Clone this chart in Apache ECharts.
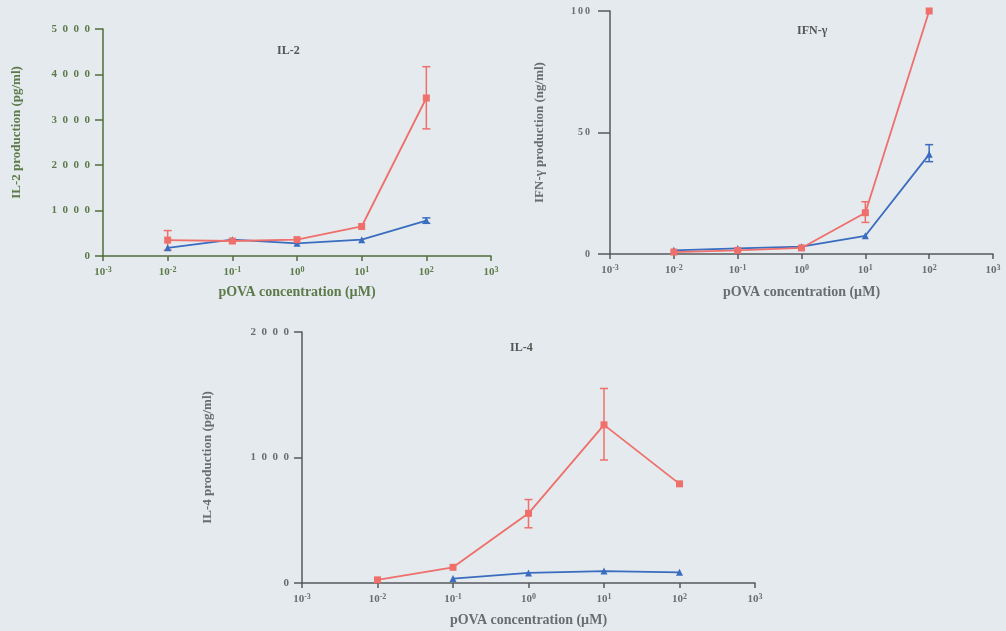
<!DOCTYPE html>
<html><head><meta charset="utf-8">
<script src="https://cdn.jsdelivr.net/npm/echarts@6/dist/echarts.min.js"></script>
<style>html,body{margin:0;padding:0;background:#e5eaee;}#c{width:1006px;height:631px;}</style>
</head><body><div id="c"></div>
<script>
// ---- data ----
const conc = [0.01, 0.1, 1, 10, 100];
// IL-2 (pg/ml)
const il2Red = [350, 330, 360, 650, 3480];
const il2RedLow = [130, null, null, null, 2800];
const il2RedHigh = [560, null, null, null, 4170];
const il2Blue = [180, 360, 280, 360, 780];
const il2BlueLow = [null, null, null, null, 720];
const il2BlueHigh = [null, null, null, null, 840];
// IFN-γ (ng/ml)
const ifnRed = [0.8, 1.5, 2.5, 17, 100];
const ifnRedLow = [null, null, null, 13, null];
const ifnRedHigh = [null, null, null, 21.5, null];
const ifnBlue = [1.5, 2.3, 3, 7.5, 41];
const ifnBlueLow = [null, null, null, null, 38];
const ifnBlueHigh = [null, null, null, null, 45];
// IL-4 (pg/ml)
const il4Red = [25, 125, 555, 1260, 790];
const il4RedLow = [null, null, 440, 980, null];
const il4RedHigh = [null, null, 665, 1550, null];
const il4Blue = [null, 35, 80, 95, 85];

const RED = '#ef6f6a', BLUE = '#3a6cc0';
const FONT = "'Liberation Serif','DejaVu Serif',serif";

function pairs(xs, ys){ return xs.map((x,i)=> ys[i]==null ? null : [x, ys[i]]).filter(d=>d); }
function errs(xs, lo, hi){ return xs.map((x,i)=> lo[i]==null ? null : [x, lo[i], hi[i]]).filter(d=>d); }

function errSeries(idx, data, color){
  return {
    type:'custom', xAxisIndex: idx, yAxisIndex: idx, data: data, z: 3, silent:true,
    renderItem: function(params, api){
      const x = api.value(0);
      const p1 = api.coord([x, api.value(1)]);
      const p2 = api.coord([x, api.value(2)]);
      const w = 4;
      const st = {stroke: color, lineWidth: 1.5};
      return {type:'group', children:[
        {type:'line', shape:{x1:p1[0], y1:p1[1], x2:p2[0], y2:p2[1]}, style: st},
        {type:'line', shape:{x1:p1[0]-w, y1:p1[1], x2:p1[0]+w, y2:p1[1]}, style: st},
        {type:'line', shape:{x1:p2[0]-w, y1:p2[1], x2:p2[0]+w, y2:p2[1]}, style: st}
      ]};
    }
  };
}
function lineSeries(idx, data, color, symbol){
  return {type:'line', xAxisIndex: idx, yAxisIndex: idx, data: data, symbol: symbol, symbolSize: 7,
    lineStyle:{color: color, width: 1.8}, itemStyle:{color: color}, z: 4, silent:true, animation:false};
}

function xAxis(idx, color, labelColor, gap){
  return {
    gridIndex: idx, type:'log', logBase:10, min:0.001, max:1000,
    name:'pOVA concentration (µM)', nameLocation:'middle', nameGap: gap,
    nameTextStyle:{fontFamily:FONT, fontWeight:'bold', fontSize:14, color: labelColor},
    axisLine:{lineStyle:{color: color, width:1.5}},
    axisTick:{show:true, length:5, lineStyle:{color: color, width:1.5}},
    splitLine:{show:false}, minorTick:{show:false},
    axisLabel:{
      margin: 10,
      formatter: function(v){ const e = Math.round(Math.log10(v)); return '{b|10}{s|' + (e<0?'-':'') + Math.abs(e) + '}'; },
      rich:{
        b:{fontFamily:FONT, fontWeight:'bold', fontSize:11, color: labelColor, lineHeight:13},
        s:{fontFamily:FONT, fontWeight:'bold', fontSize:8, color: labelColor, verticalAlign:'top', lineHeight:13}
      }
    }
  };
}
function yAxis(idx, max, interval, name, gap, color, labelColor, tickLen, pad, sep, fs, margin){
  return {
    gridIndex: idx, type:'value', min:0, max:max, interval:interval,
    name:name, nameLocation:'middle', nameGap: gap,
    nameTextStyle:{fontFamily:FONT, fontWeight:'bold', fontSize:13, color: labelColor, padding: pad},
    axisLine:{show:true, lineStyle:{color: color, width:1.5}},
    axisTick:{show:true, length:tickLen, lineStyle:{color: color, width:1.5}},
    splitLine:{show:false},
    axisLabel:{fontFamily:FONT, fontWeight:'bold', fontSize:fs, color: labelColor, margin: margin,
      formatter: function(v){ return String(v).split('').join(sep); }}
  };
}

const G1 = '#4f6f3c', G1L = '#5d7b4a', GR = '#555a5e', GRL = '#6a6d70';
const TS = {fontFamily:FONT, fontWeight:'bold', fontSize:12, color:'#555'};

const option = {
  backgroundColor:'#e5eaee',
  animation:false,
  title:[
    {text:'IL-2', left:272, top:40, textStyle:TS},
    {text:'IFN-γ', left:792, top:20, textStyle:TS},
    {text:'IL-4', left:505, top:337, textStyle:TS}
  ],
  grid:[
    {left:103, top:29, width:388, height:227},
    {left:610, top:11, width:383, height:243},
    {left:302, top:332, width:453, height:251}
  ],
  xAxis:[ xAxis(0, G1, G1L, 29), xAxis(1, GR, GRL, 31), xAxis(2, GR, GRL, 30) ],
  yAxis:[
    yAxis(0, 5000, 1000, 'IL-2 production (pg/ml)', 80, G1, G1L, 8, [0,0,0,20], '\u2002', 11, 13),
    yAxis(1, 100, 50, 'IFN-γ production (ng/ml)', 64, GR, GRL, 12, 0, '\u2009', 10, 20),
    yAxis(2, 2000, 1000, 'IL-4 production (pg/ml)', 88, GR, GRL, 8, 0, '\u2002', 11, 13)
  ],
  series:[
    lineSeries(0, pairs(conc, il2Blue), BLUE, 'triangle'),
    errSeries(0, errs(conc, il2BlueLow, il2BlueHigh), BLUE),
    lineSeries(0, pairs(conc, il2Red), RED, 'rect'),
    errSeries(0, errs(conc, il2RedLow, il2RedHigh), RED),

    lineSeries(1, pairs(conc, ifnBlue), BLUE, 'triangle'),
    errSeries(1, errs(conc, ifnBlueLow, ifnBlueHigh), BLUE),
    lineSeries(1, pairs(conc, ifnRed), RED, 'rect'),
    errSeries(1, errs(conc, ifnRedLow, ifnRedHigh), RED),

    lineSeries(2, pairs(conc, il4Blue), BLUE, 'triangle'),
    lineSeries(2, pairs(conc, il4Red), RED, 'rect'),
    errSeries(2, errs(conc, il4RedLow, il4RedHigh), RED)
  ]
};
const chart = echarts.init(document.getElementById('c'), null, {renderer:'canvas'});
chart.setOption(option);
</script>
</body></html>
